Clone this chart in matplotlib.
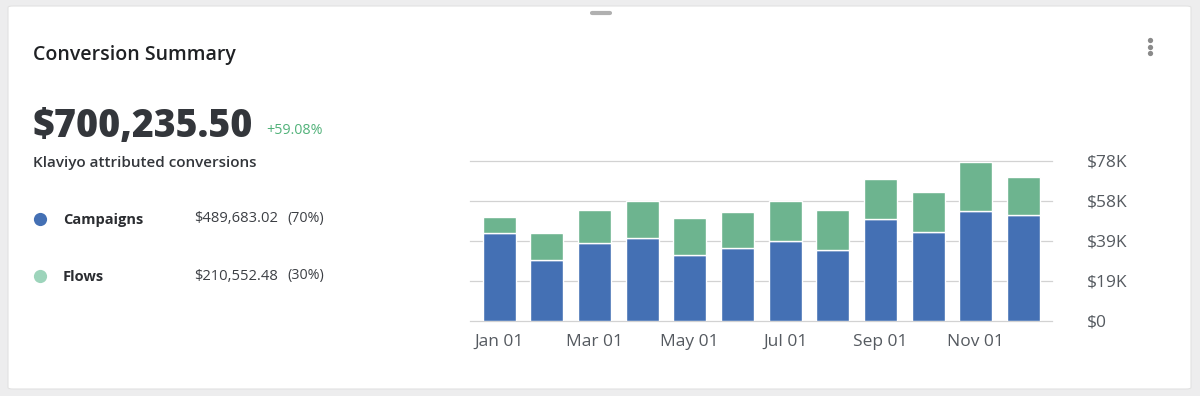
import matplotlib
matplotlib.use("Agg")
import matplotlib.pyplot as plt
from matplotlib.patches import FancyBboxPatch
from matplotlib.lines import Line2D

# ---- data ----
months = ["Jan", "Feb", "Mar", "Apr", "May", "Jun", "Jul", "Aug", "Sep", "Oct", "Nov", "Dec"]
campaigns = [43060, 29900, 37860, 40625, 32010, 35590, 39000, 34610, 49890, 43225, 53460, 51675]
flows = [7640, 13000, 16090, 18035, 18200, 17385, 19340, 19340, 19500, 19665, 24215, 18685]
xtick_idx = [0, 2, 4, 6, 8, 10]
xtick_labels = ["Jan 01", "Mar 01", "May 01", "Jul 01", "Sep 01", "Nov 01"]
ytick_vals = [0, 19500, 39000, 58500, 78000]
ytick_labels = ["$0", "$19K", "$39K", "$58K", "$78K"]

title = "Conversion Summary"
total_text = "$700,235.50"
change_text = "+59.08%"
subtitle = "Klaviyo attributed conversions"
legend_rows = [("Campaigns", "$489,683.02", "(70%)"), ("Flows", "$210,552.48", "(30%)")]

BLUE = "#4470b4"
GREEN = "#6db48f"
GREEN_DOT = "#9dd4bb"
DARK = "#2b2d31"
GRAY = "#555a60"

W, H = 1200, 396
plt.rcParams['font.family'] = ['Open Sans', 'DejaVu Sans']
fig = plt.figure(figsize=(W / 100, H / 100), dpi=100)
fig.patch.set_facecolor("#ededee")

def fx(x):
    return x / W

def fy(y):
    return 1 - y / H

# card
card = FancyBboxPatch((fx(8), fy(389)), fx(1191) - fx(8), fy(6) - fy(389),
                      boxstyle="round,pad=0,rounding_size=0.004",
                      transform=fig.transFigure, facecolor="white",
                      edgecolor="#e2e2e2", linewidth=0.8, zorder=-5)
fig.add_artist(card)

# drag handle
fig.add_artist(Line2D([fx(592), fx(610)], [fy(13), fy(13)], color="#b0b0b0",
                      linewidth=3, solid_capstyle="round", transform=fig.transFigure))
# kebab
fig.add_artist(Line2D([fx(1150)] * 3, [fy(40), fy(46.5), fy(53)], linestyle="none",
                      marker="o", markersize=3.8, color="#8a8a8a", markeredgewidth=0,
                      transform=fig.transFigure))

# texts
fig.text(fx(33), fy(55), title, fontsize=14, fontweight="semibold", color="#1f2124",
         va="center", ha="left")
fig.text(fx(32), fy(127), total_text, fontsize=27, fontweight=800, color="#33363b",
         va="center", ha="left")
fig.text(fx(266), fy(130), change_text, fontsize=10.3, color="#52b27a", va="center", ha="left")
fig.text(fx(33), fy(163), subtitle, fontsize=11, fontweight="semibold", color="#33363b",
         va="center", ha="left")

dot_colors = [BLUE, GREEN_DOT]
for i, (name, val, pct) in enumerate(legend_rows):
    yy = 219 + i * 57
    fig.add_artist(Line2D([fx(40)], [fy(yy)], linestyle="none", marker="o",
                          markersize=9.5, color=dot_colors[i], markeredgewidth=0,
                          transform=fig.transFigure))
    fig.text(fx(63), fy(yy + 1), name, fontsize=10.5, fontweight="bold", color=DARK,
             va="center", ha="left")
    fig.text(fx(278), fy(yy), val, fontsize=10.6, color="#3c3f44", va="center", ha="right")
    fig.text(fx(324), fy(yy), pct, fontsize=10.3, color="#3c3f44", va="center", ha="right")

# chart axes
left, right, top, bottom = 470, 1052, 161, 321
ax = fig.add_axes([fx(left), fy(bottom), fx(right) - fx(left), fy(top) - fy(bottom)],
                  zorder=2)
ax.set_facecolor("none")
x = list(range(len(months)))
ax.bar(x, campaigns, width=0.695, color=BLUE, edgecolor="white", linewidth=1.0, zorder=3)
ax.bar(x, flows, bottom=campaigns, width=0.695, color=GREEN, edgecolor="white",
       linewidth=1.0, zorder=3)
ax.set_xlim(-0.61, 11.6)
ax.set_ylim(0, 78000)
ax.set_yticks(ytick_vals)
ax.set_yticklabels(ytick_labels)
ax.yaxis.tick_right()
ax.set_xticks(xtick_idx)
ax.set_xticklabels(xtick_labels)
ax.tick_params(axis="y", length=0, pad=25, labelsize=12.5, labelcolor=GRAY)
ax.tick_params(axis="x", length=0, pad=9, labelsize=12.5, labelcolor=GRAY)
for lbl in ax.get_yticklabels():
    lbl.set_horizontalalignment("left")
for v in ytick_vals:
    ax.axhline(v, color="#d2d2d2", linewidth=0.9, zorder=1, clip_on=False)
for s in ax.spines.values():
    s.set_visible(False)

fig.savefig("out.png", dpi=100, facecolor=fig.get_facecolor())
